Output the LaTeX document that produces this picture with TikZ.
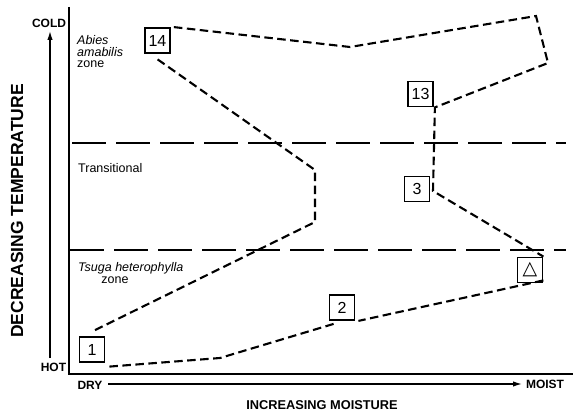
\documentclass[tikz,border=0pt]{standalone}
\usepackage{fontspec}
\setmainfont{Liberation Sans}
\newfontfamily\symfont{DejaVu Sans}
\usetikzlibrary{arrows.meta}
\tikzset{
  box/.style={draw, line width=1.8pt, minimum size=25pt, inner sep=0pt, font=\fontsize{16}{16}\selectfont},
  pth/.style={line width=2.1pt, dash pattern=on 8.5pt off 4.5pt},
  zoneline/.style={line width=1.7pt, dash pattern=on 34pt off 10pt},
  axis/.style={line width=1.7pt},
  arr/.style={line width=1.4pt, -{Latex[length=9pt,width=5.5pt]}},
  axlab/.style={font=\fontsize{12}{12}\selectfont\bfseries, inner sep=0pt},
  zlab/.style={font=\fontsize{12.5}{12.5}\selectfont, inner sep=0pt, anchor=base west},
}
\begin{document}
\begin{tikzpicture}[x=1pt,y=-1pt]
\useasboundingbox[fill=white] (0,0) rectangle (576,412);

% axes
\coordinate (ytop) at (69,7);
\coordinate (orig) at (69,374);
\coordinate (xend) at (573,374);
\draw[axis] (ytop) -- (orig) -- (xend);

% zone boundaries
\coordinate (h1a) at (72,143);
\coordinate (h1b) at (566,143);
\coordinate (h2a) at (70,250);
\coordinate (h2b) at (566,250);
\draw[zoneline] (h1a) -- (h1b);
\draw[zoneline] (h2a) -- (h2b);

% axis labels
\node[axlab] (cold) at (49,23.5) {COLD};
\node[axlab] (hot) at (53.5,367) {HOT};
\node[axlab] (dry) at (90,385) {DRY};
\node[axlab] (moist) at (545,384) {MOIST};
\coordinate (tb) at (50,358);
\coordinate (tt) at (50,31);
\draw[arr] (tb) -- (tt);
\coordinate (mb) at (108,384);
\coordinate (me) at (522,384);
\draw[arr] (mb) -- (me);
\node[font=\fontsize{17.5}{17.5}\selectfont\bfseries, rotate=90, inner sep=0pt] (ytitle) at (17,211) {DECREASING TEMPERATURE};
\node[font=\fontsize{12.8}{12.8}\selectfont\bfseries, inner sep=0pt] (xtitle) at (322,405) {INCREASING MOISTURE};

% zone labels
\node[zlab] (za1) at (77,45) {\itshape Abies};
\node[zlab] (za2) at (77,56.5) {\itshape amabilis};
\node[zlab] (za3) at (77,68) {zone};
\node[zlab] (zt) at (78,172) {Transitional};
\node[zlab] (zh1) at (78,271) {\itshape Tsuga heterophylla};
\node[zlab, anchor=base] (zh2) at (115,283) {zone};

% sample boxes
\node[box] (b14) at (157.5,40.5) {14};
\node[box] (b13) at (420.5,94) {13};
\node[box] (b3) at (417,189) {3};
\node[box, font=\fontsize{19}{19}\selectfont] (bD) at (530,270) {\symfont △};
\node[box] (b2) at (342,307.5) {2};
\node[box] (b1) at (92,349.5) {1};

% envelope
\coordinate (c1) at (350,47);
\coordinate (c2) at (536,16);
\coordinate (c3) at (548,63);
\coordinate (c4) at (433,191);
\coordinate (c5) at (220,358);
\coordinate (c6) at (315,222);
\coordinate (c7) at (315,170);
\draw[pth] ([xshift=3pt]b14.north east) -- (c1) -- (c2) -- (c3) -- ([xshift=1pt]b13.south east) -- (c4) -- (bD.north east);
\draw[pth] ([yshift=3pt]bD.south east) -- ([xshift=3pt]b2.south east);
\draw[pth] ([shift={(5,3)}]b2.south west) -- (c5) -- ([shift={(0,4)}]b1.south east);
\draw[pth] ([shift={(3,-6)}]b1.north) -- (c6) -- (c7) -- ([shift={(-2,4)}]b14.south);
\end{tikzpicture}
\end{document}
